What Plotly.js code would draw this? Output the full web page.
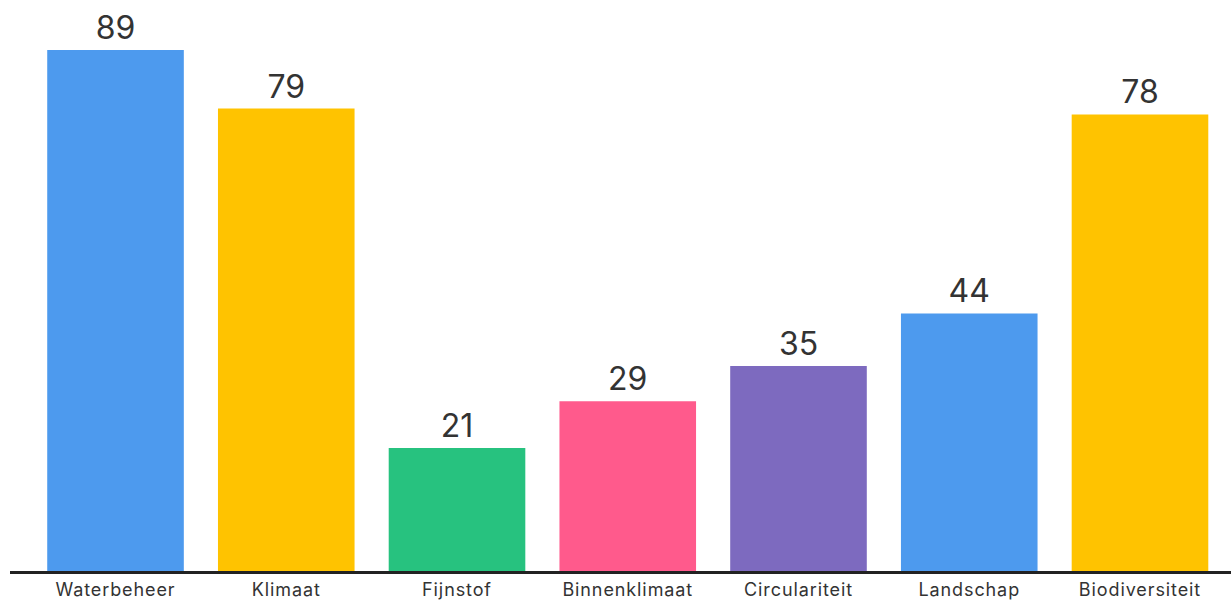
<!DOCTYPE html>
<html>
<head>
<meta charset="utf-8">
<script src="https://cdn.plot.ly/plotly-3.0.1.min.js"></script>
<style>html,body{margin:0;padding:0;background:#fff;}#chart{width:1231px;height:600px;}
.xtick text{letter-spacing:0.9px;}</style>
</head>
<body>
<div id="chart"></div>
<script>
const categories = ["Waterbeheer", "Klimaat", "Fijnstof", "Binnenklimaat", "Circulariteit", "Landschap", "Biodiversiteit"];
const values = [89, 79, 21, 29, 35, 44, 78];
const barColors = ["#4D9AEE", "#FFC300", "#27C27F", "#FF5A8C", "#7D6ABF", "#4D9AEE", "#FFC300"];

const trace = {
  type: "bar",
  x: categories,
  y: values,
  marker: {color: barColors, line: {width: 0}},
  text: values.map(String),
  textposition: "outside",
  cliponaxis: false,
  textfont: {family: "Inter, Roboto, sans-serif", size: 32, color: "#333333"},
  hoverinfo: "none"
};

const layout = {
  width: 1231,
  height: 600,
  margin: {l: 10, r: 0, t: 50, b: 29},
  paper_bgcolor: "#ffffff",
  plot_bgcolor: "#ffffff",
  showlegend: false,
  bargap: 0.2,
  xaxis: {
    type: "category",
    range: [-0.618, 6.533],
    showline: true,
    linecolor: "#222222",
    linewidth: 3,
    ticks: "",
    showgrid: false,
    zeroline: false,
    tickfont: {family: "Inter, Roboto, sans-serif", size: 18, color: "#333333"},
    fixedrange: true
  },
  yaxis: {
    range: [0, 89],
    showgrid: false,
    zeroline: false,
    showline: false,
    showticklabels: false,
    ticks: "",
    fixedrange: true
  }
};

Plotly.newPlot("chart", [trace], layout, {displayModeBar: false, staticPlot: true});
</script>
</body>
</html>
